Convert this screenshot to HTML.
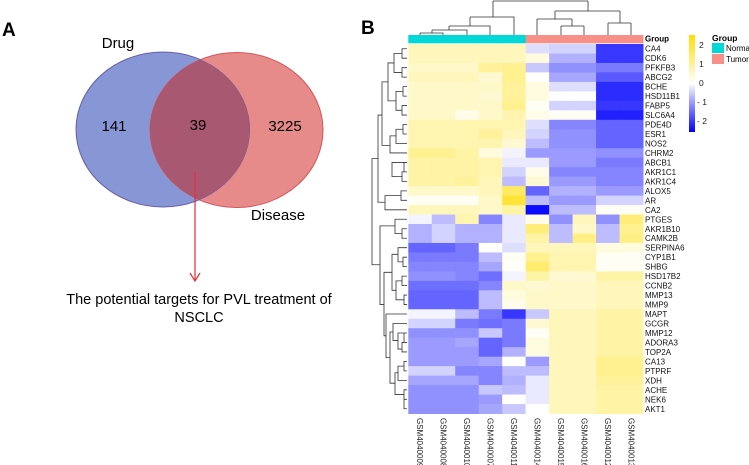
<!DOCTYPE html>
<html><head><meta charset="utf-8"><style>
body{margin:0;background:#fff;}
svg{display:block;font-family:"Liberation Sans",sans-serif;}
</style></head><body>
<svg id="fig" width="749" height="465" viewBox="0 0 749 465">
<g>
<text x="2" y="36" font-size="19" font-weight="bold">A</text>
<ellipse cx="163" cy="129.5" rx="87" ry="77.5" fill="#8797d6" stroke="#5b6bc0" stroke-width="1"/>
<ellipse cx="236.5" cy="130" rx="86.5" ry="77.5" fill="#e68a8a" stroke="#d4555a" stroke-width="1"/>
<clipPath id="cb"><ellipse cx="163" cy="129.5" rx="87" ry="77.5"/></clipPath>
<ellipse cx="236.5" cy="130" rx="86.5" ry="77.5" fill="#a95872" clip-path="url(#cb)"/>
<ellipse cx="163" cy="129.5" rx="87" ry="77.5" fill="none" stroke="#7a5a9a" stroke-width="1" clip-path="url(#cb)"/>
<text x="118" y="48" font-size="15" text-anchor="middle">Drug</text>
<text x="114" y="131" font-size="15" text-anchor="middle">141</text>
<text x="198" y="130" font-size="15" text-anchor="middle">39</text>
<text x="285" y="131" font-size="15" text-anchor="middle">3225</text>
<text x="278" y="220" font-size="15" text-anchor="middle">Disease</text>
<line x1="195" y1="172" x2="195" y2="281" stroke="#e0303a" stroke-width="1.2"/>
<path d="M190 273 L195 281 L200 273" fill="none" stroke="#e0303a" stroke-width="1.2"/>
<text x="199" y="304" font-size="14.5" text-anchor="middle">The potential targets for PVL treatment of</text>
<text x="199" y="322" font-size="14.5" text-anchor="middle">NSCLC</text>
</g>
<text x="361" y="34" font-size="19" font-weight="bold">B</text>
<g id="hm"></g>
<g stroke="#333" stroke-width="0.8" fill="none">
<path d="M493 1H588M493 1V17M588 1V11M470 17H514V35M470 17V26M449 26H490V35M449 26V30M432 30H467V35M432 30V33M420 33H443V35M420 33V35M555 11H620M555 11V19M620 11V23M537 19H572M537 19V35M572 19V26M561 26H584M561 26V35M584 26V35M608 23H631M608 23V35M631 23V35"/>
</g>
<g id="rowdend" stroke="#333" stroke-width="0.8" fill="none"></g>
<g>
<defs><linearGradient id="cg" x1="0" y1="0" x2="0" y2="1"><stop offset="0" stop-color="#ffdd00"/><stop offset="0.5" stop-color="#ffffff"/><stop offset="1" stop-color="#0000ff"/></linearGradient></defs>
<rect x="689" y="35" width="6" height="97" fill="url(#cg)"/>
<g font-size="8.5" fill="#222">
<text x="699" y="48">2</text><text x="699" y="67">1</text><text x="699" y="86">0</text><text x="697" y="105">- 1</text><text x="697" y="124">- 2</text>
</g>
<text x="712" y="41" font-size="8.5" font-weight="bold">Group</text>
<rect x="712" y="43" width="12" height="10" fill="#00d7d7"/>
<text x="726" y="51" font-size="8">Normal</text>
<rect x="712" y="54" width="12" height="10" fill="#f89088"/>
<text x="726" y="62" font-size="8">Tumor</text>
</g>
</svg>
<script>
const genes=["CA4","CDK6","PFKFB3","ABCG2","BCHE","HSD11B1","FABP5","SLC6A4","PDE4D","ESR1","NOS2","CHRM2","ABCB1","AKR1C1","AKR1C4","ALOX5","AR","CA2","PTGES","AKR1B10","CAMK2B","SERPINA6","CYP1B1","SHBG","HSD17B2","CCNB2","MMP13","MMP9","MAPT","GCGR","MMP12","ADORA3","TOP2A","CA13","PTPRF","XDH","ACHE","NEK6","AKT1"];
const samples=["GSM4040009","GSM4040008","GSM4040010","GSM4040007","GSM4040011","GSM4040014","GSM4040015","GSM4040016","GSM4040012","GSM4040013"];
const groups=["Normal","Normal","Normal","Normal","Normal","Tumor","Tumor","Tumor","Tumor","Tumor"];
const values=[
[0.6,0.6,0.6,0.6,0.6,-0.3,-0.4,-0.4,-1.8,-1.8],
[0.6,0.6,0.6,0.6,0.6,0.3,-0.7,-0.7,-1.8,-1.8],
[0.5,0.5,0.5,0.9,1.0,-0.5,-1.0,-1.0,-1.2,-1.2],
[0.6,0.6,0.6,0.4,1.0,0,-0.8,-0.8,-1.5,-1.5],
[0.5,0.5,0.5,0.5,0.9,0.3,-0.3,-0.3,-1.9,-1.9],
[0.5,0.5,0.5,0.4,0.9,0.3,0,0,-1.9,-1.9],
[0.5,0.5,0.5,0.5,1.0,0.1,-0.4,-0.4,-1.8,-1.8],
[0.5,0.5,0.2,0.5,0.7,0.2,0.1,0.1,-2,-2],
[0.7,0.7,0.7,0.7,0.7,-0.3,-1.1,-1.1,-1.4,-1.4],
[0.7,0.7,0.7,0.9,0.6,-0.4,-1,-1,-1.4,-1.4],
[0.7,0.7,0.7,0.7,0.4,-0.6,-1,-1,-1.4,-1.4],
[1.0,1.0,0.8,0.3,-0.1,-0.9,-0.9,-0.9,-1.0,-1.0],
[0.8,0.8,0.8,0.7,-0.2,-0.2,-0.9,-0.9,-1.2,-1.2],
[0.8,0.8,0.8,0.7,-0.4,0.2,-1.1,-1.1,-1.1,-1.1],
[0.8,0.8,0.9,0.6,-0.6,0.4,-0.9,-0.9,-1.1,-1.1],
[0.5,0.5,0.5,0.6,1.4,-1.4,-0.7,-0.7,-0.9,-0.9],
[0.1,0.1,0.1,0.5,1.8,-0.6,-0.9,-0.9,-0.4,-0.4],
[0.6,0.6,0.6,0.5,0.8,-2.2,-0.6,-0.6,0.1,0.1],
[-0.1,-0.6,0.7,-1.1,-0.2,0.2,-1.0,0.6,-1.0,1.2],
[-0.7,-0.4,-0.7,-0.7,-0.2,1.2,-0.6,0.5,-0.6,1.0],
[-0.7,-0.4,-0.7,-0.7,-0.2,0.8,-0.6,1.1,-0.6,1.1],
[-1.4,-1.4,-1.2,0,-0.3,0.6,0.6,0.6,0.3,0.3],
[-1.2,-1.2,-1.2,-0.6,0.1,1.0,0.7,0.7,0.1,0.1],
[-1.1,-1.1,-1.1,-0.8,0.05,1.3,0.7,0.7,0.1,0.1],
[-1.0,-1.0,-1.1,-1.3,-0.1,0.8,0.4,0.4,0.8,0.8],
[-1.3,-1.3,-1.3,-1.1,0.5,0.4,0.5,0.5,0.6,0.6],
[-1.4,-1.4,-1.4,-0.6,0.3,0.5,0.5,0.5,0.6,0.6],
[-1.4,-1.4,-1.4,-0.6,0.2,0.5,0.5,0.5,0.6,0.6],
[-0.1,-0.1,-0.6,-1.2,-1.8,-0.5,0.6,0.6,0.8,0.8],
[-0.4,-0.4,-1.2,-1.3,-1.2,0.4,0.6,0.6,0.8,0.8],
[-1.0,-1.0,-1.0,-0.5,-1.2,0.1,0.6,0.6,0.8,0.8],
[-0.9,-0.9,-0.8,-1.4,-1.2,0.3,0.6,0.6,0.8,0.8],
[-0.9,-0.9,-0.9,-1.4,-0.7,0.3,0.6,0.6,0.8,0.8],
[-0.9,-0.9,-0.9,-0.8,0,-0.9,0.6,0.6,1.0,1.0],
[-0.4,-0.4,-1.1,-1.1,-0.6,-0.6,0.6,0.6,1.0,1.0],
[-0.8,-0.8,-0.8,-1.1,-0.7,-0.2,0.6,0.6,0.9,0.9],
[-1.0,-1.0,-1.0,-0.5,-0.6,-0.2,0.6,0.6,0.8,0.8],
[-1.0,-1.0,-1.0,-0.9,0,-0.2,0.6,0.6,0.8,0.8],
[-1.0,-1.0,-1.0,-0.8,-0.5,0,0.6,0.6,0.8,0.8]
];
const NS="http://www.w3.org/2000/svg";
const X0=408.3,X1=643,Y0=44,Y1=413.5;
const cw=(X1-X0)/samples.length, rh=(Y1-Y0)/genes.length;
const xPos=i=>X0+i*cw, yPos=j=>Y0+j*rh;
function color(v){const t=Math.max(-1,Math.min(1,v/2.3));
 if(t>=0){return `rgb(255,${Math.round(255-34*t)},${Math.round(255-255*t)})`;}
 const s=-t;return `rgb(${Math.round(255-255*s)},${Math.round(255-255*s)},255)`;}
const hm=document.getElementById('hm');
function mk(tag,attrs){const e=document.createElementNS(NS,tag);for(const k in attrs)e.setAttribute(k,attrs[k]);return e;}
groups.forEach((g,i)=>{const r=mk('rect',{x:xPos(i),y:35,width:cw+0.5,height:8.3,fill:g==="Normal"?"#00d7d7":"#f89088"});
 
 hm.appendChild(r);});
const gl=mk('text',{x:645,y:41.5,'font-size':8,'font-weight':'bold'});gl.textContent="Group";

hm.appendChild(gl);
values.forEach((row,j)=>row.forEach((v,i)=>{const r=mk('rect',{x:xPos(i),y:yPos(j),width:cw+0.5,height:rh+0.5,fill:color(v)});
 
 hm.appendChild(r);}));
genes.forEach((g,j)=>{const t=mk('text',{x:645,y:yPos(j)+rh/2+3,'font-size':8,fill:'#111'});t.textContent=g;
 
 hm.appendChild(t);});
samples.forEach((s,i)=>{const cx=xPos(i)+cw/2-3;const t=mk('text',{x:cx,y:418,'font-size':8,fill:'#222',transform:`rotate(90 ${cx} 418)`});t.textContent=s;
 
 hm.appendChild(t);});
// row dendrogram (approximate structure)
const rc=j=>yPos(j)+rh/2;
let d="";
function br(a,b,x){d+=`M407 ${rc(a)}H${x}V${rc(b)}H407`;}
[[0,1,402],[2,3,402],[4,5,403],[6,7,402],[8,9,403],[12,13,404],[13,14,402],[15,16,401],[19,20,402],[22,23,403],[24,25,402],[26,27,404],[30,31,404],[31,32,402],[33,34,404],[36,37,404]].forEach(a=>br(...a));
d+=`M402 ${rc(0.5)}H394V${rc(2.5)}H402 M403 ${rc(4.5)}H396V${rc(6.5)}H402 M394 ${rc(1.5)}H388V${rc(5.5)}H396`;
d+=`M403 ${rc(8.5)}H396V${rc(10)}H407 M396 ${rc(9.2)}H390V${rc(11)}H407 M402 ${rc(13.5)}H392V${rc(12)}H404`;
d+=`M388 ${rc(3.5)}H382V${rc(10.2)}H390 M401 ${rc(15.5)}H385V${rc(17)}H407 M382 ${rc(7)}H378V${rc(16.2)}H385`;
d+=`M402 ${rc(19.5)}H395V${rc(18)}H407 M403 ${rc(22.5)}H398V${rc(21)}H407 M402 ${rc(24.5)}H396V${rc(26.5)}H404 M398 ${rc(21.7)}H392V${rc(25.5)}H396`;
d+=`M404 ${rc(30)}H398V${rc(31.7)}H402 M398 ${rc(30.8)}H393V${rc(29)}H407 M404 ${rc(33.5)}H398V${rc(35)}H407 M398 ${rc(34.2)}H395V${rc(36.5)}H404 M404 ${rc(36.5)}V${rc(38)}H407`;
d+=`M395 ${rc(35.3)}H390V${rc(29.9)}H393 M390 ${rc(32.6)}H386V${rc(28)}H407 M392 ${rc(23.6)}H384V${rc(30.3)}H386 M395 ${rc(18.7)}H380V${rc(27)}H384 M378 ${rc(11.6)}H372V${rc(22.8)}H380`;
document.getElementById('rowdend').appendChild(mk('path',{d:d}));
</script>
</body></html>
